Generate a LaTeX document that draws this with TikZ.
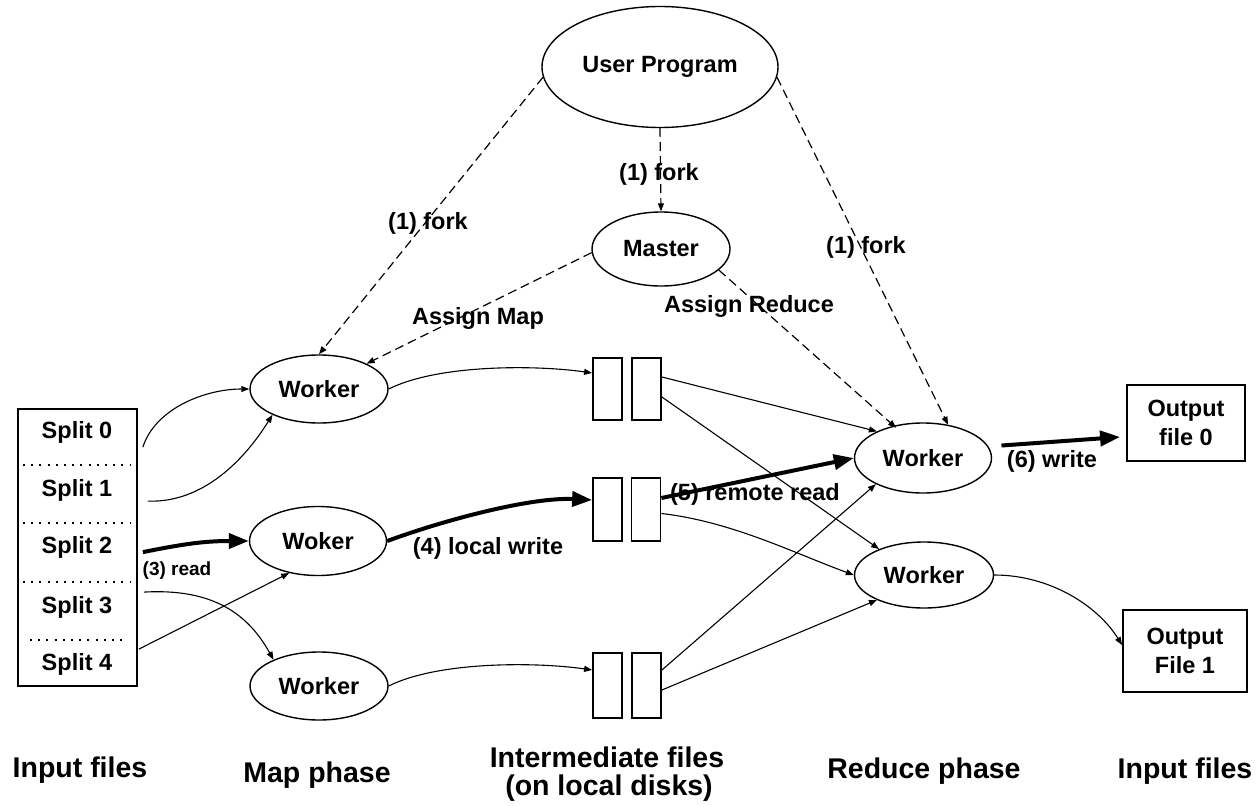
\documentclass[tikz,border=0pt]{standalone}
\usepackage{fontspec}
\setmainfont{Liberation Sans}
\usetikzlibrary{shapes.geometric,arrows.meta,calc}
\begin{document}
\begin{tikzpicture}[x=1pt,y=-1pt,
  font=\bfseries\fontsize{23.5}{29}\selectfont,
  ell/.style={ellipse,draw,line width=1.4pt,inner sep=0pt},
  wk/.style={ell,minimum width=138pt,minimum height=68pt},
  ifile/.style={rectangle,draw,line width=1.8pt,minimum width=29pt,inner sep=0pt},
  obox/.style={rectangle,draw,line width=1.8pt,inner sep=0pt,align=center},
  lbl/.style={inner sep=0pt,anchor=base},
  smalllbl/.style={lbl,font=\bfseries\fontsize{19}{22}\selectfont},
  big/.style={lbl,font=\bfseries\fontsize{28.5}{28.5}\selectfont},
  arr/.style={line width=1.1pt,-{Triangle[length=8pt,width=6pt]}},
  bigarr/.style={line width=4pt,-{Triangle[length=20pt,width=15pt]}},
  dsh/.style={line width=1.2pt,dash pattern=on 9pt off 5pt,-{Triangle[length=8pt,width=6pt]}},
  sep/.style={line width=2pt,dash pattern=on 2pt off 6.2pt}
]
\fill[white] (0,0) rectangle (1256,806);
\useasboundingbox (0,0) rectangle (1256,806);

% top
\node[ell,minimum width=236pt,minimum height=121pt] (up) at (660,67) {User Program};
\node[ell,minimum width=138pt,minimum height=74pt] (master) at (661,249) {Master};

% map workers
\node[wk] (w1) at (319,389) {Worker};
\node[wk,minimum width=137pt,minimum height=69pt] (w2) at (318,541) {Woker};
\node[wk] (w3) at (319,686) {Worker};

% reduce workers
\node[ell,minimum width=137pt,minimum height=70pt] (r1) at (923,458) {Worker};
\node[ell,minimum width=139pt,minimum height=66pt] (r2) at (924,575) {Worker};

% input box
\node[rectangle,draw,line width=1.8pt,minimum width=119pt,minimum height=277pt,inner sep=0pt] (inbox) at (77.5,547.5) {};
\node[lbl] (s0) at (77,438.5) {Split 0};
\node[lbl] (s1) at (77,496.5) {Split 1};
\node[lbl] (s2) at (77,553.5) {Split 2};
\node[lbl] (s3) at (77,613.5) {Split 3};
\node[lbl] (s4) at (77,670.5) {Split 4};
\draw[sep] (23,465) -- (131,465);
\draw[sep] (23,523) -- (131,523);
\draw[sep] (23,582) -- (131,582);
\draw[sep] (30,640) -- (124,640);

% intermediate files
\node[ifile,minimum height=62pt] (f1a) at (607.5,389) {};
\node[ifile,minimum height=62pt] (f1b) at (646.5,389) {};
\node[ifile,minimum height=63pt] (f2a) at (607.5,509.5) {};
\node[ifile,minimum height=63pt] (f2b) at (646,509.5) {};
\node[ifile,minimum height=65pt] (f3a) at (607.5,685.5) {};
\node[ifile,minimum height=65pt] (f3b) at (646.5,685.5) {};

% outputs
\node[obox,minimum width=118pt,minimum height=76pt] (out0) at (1186,423) {Output\\file 0};
\node[obox,minimum width=124pt,minimum height=82pt] (out1) at (1185,651) {Output\\File 1};

% start points on the input box
\coordinate (p0) at ($(inbox.north east)+(5,39)$);
\coordinate (p1) at ($(inbox.north east)+(10,93)$);
\coordinate (p2) at ($(inbox.north east)+(5,144)$);
\coordinate (p3) at ($(inbox.north east)+(6,184)$);
\coordinate (p4) at ($(inbox.north east)+(1,241)$);

% dashed control
\draw[dsh] (up.185) -- (w1.north);
\draw[dsh] (up.south) -- (master.north);
\draw[dsh] (up.-5) -- (r1.53);
\draw[dsh] (master.183) -- (w1.28);
\draw[dsh] (master.-20) -- ($(r1.north west)+(22,-5)$);

\node[lbl] (lf1) at (659,180) {(1) fork};
\node[lbl] (lf2) at (428,229) {(1) fork};
\node[lbl] (lf3) at (866,253) {(1) fork};
\node[lbl] (lam) at (478,324) {Assign Map};
\node[lbl] (lar) at (749,312) {Assign Reduce};

% input to map
\draw[arr] (p0) .. controls +(12,-38) and +(-45,0) .. (w1.west);
\draw[arr] (p1) .. controls +(55,2) and +(-28,45) .. (w1.209);
\draw[bigarr] (p2) .. controls +(40,-8) and +(-45,0) .. (w2.west);
\node[smalllbl] (l3) at (177,575) {(3) read};
\draw[arr] (p3) .. controls +(70,-4) and +(-25,-45) .. (w3.150);
\draw[arr] (p4) -- (w2.228);

% map to intermediate
\draw[arr] (w1.east) .. controls +(50,-25) and +(-55,-8) .. ($(f1a.west)+(0,-16)$);
\draw[bigarr] (w2.east) .. controls +(60,-22) and +(-60,-3) .. ($(f2a.west)+(0,-9.5)$);
\node[lbl] (l4) at (488,554) {(4) local write};
\draw[arr] (w3.east) .. controls +(50,-25) and +(-55,-8) .. ($(f3a.west)+(0,-15.5)$);

% intermediate to reduce
\draw[arr] ($(f1b.east)+(0,-12)$) -- (r1.150);
\draw[arr] ($(f1b.east)+(0,8)$) -- (r2.150);
\draw[bigarr] ($(f2b.east)+(0,-11.5)$) -- (r1.west);
\node[lbl] (l5) at (755,500) {(5) remote read};
\draw[arr] ($(f2b.east)+(0,4)$) .. controls +(70,8) and +(-60,-22) .. (r2.west);
\draw[arr] ($(f3b.east)+(0,-15.5)$) -- (r1.209);
\draw[arr] ($(f3b.east)+(0,4.5)$) -- (r2.208);

% reduce to output
\draw[bigarr,shorten <=13pt] (r1.10) -- ($(out0.west)+(-6,14)$);
\node[lbl] (l6) at (1052,467) {(6) write};
\draw[arr] (r2.east) .. controls +(55,0) and +(-25,-40) .. ($(out1.west)+(0,-6)$);

% bottom captions
\node[big] (c1) at (80,777) {Input files};
\node[big] (c2) at (317,782) {Map phase};
\node[big] (c3) at (607,767) {Intermediate files};
\node[big] (c3b) at (609,795) {(on local disks)};
\node[big] (c4) at (924,778) {Reduce phase};
\node[big] (c5) at (1185,778) {Input files};
\end{tikzpicture}
\end{document}
